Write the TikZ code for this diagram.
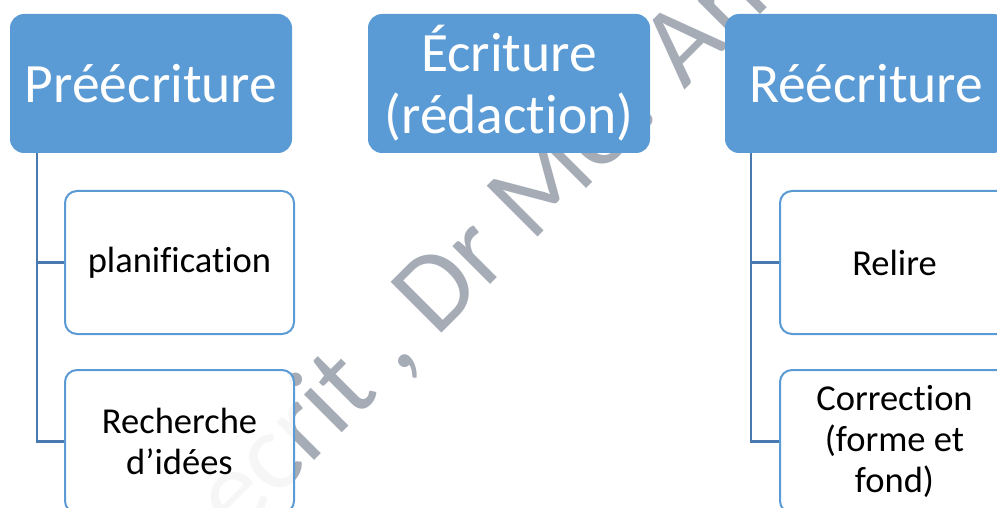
\documentclass[tikz,border=0pt]{standalone}
\usepackage{fontspec}
\setmainfont{Carlito}[Ligatures=NoCommon]
\usetikzlibrary{positioning}
\definecolor{smartblue}{RGB}{91,155,213}
\definecolor{linkblue}{RGB}{72,122,176}
\definecolor{markgray}{RGB}{165,172,182}
\tikzset{
  headbox/.style={fill=smartblue, rounded corners=14pt, minimum width=282pt, minimum height=139pt,
    text=white, align=center, inner sep=0pt, font=\fontsize{55.5}{62}\selectfont},
  itembox/.style={draw=smartblue, line width=2pt, fill=white, fill opacity=0.9, text opacity=1,
    rounded corners=12pt, minimum width=229pt, minimum height=143pt, align=center, inner sep=0pt,
    font=\fontsize{36.5}{41}\selectfont},
  link/.style={draw=linkblue, line width=2.2pt},
  watermark/.style={text=markgray, inner sep=0pt, font=\fontsize{112}{112}\selectfont}
}
\begin{document}
\begin{tikzpicture}[x=1pt, y=-1pt]
        \useasboundingbox (0,0) rectangle (997,508);
        \clip (0,0) rectangle (997,508);

        % filigrane
        \node[watermark, rotate=45, anchor=base west] (wm) at (236,539) {écrit , Dr Mo. An};

        \node[headbox] (pre) at (151,83.5) {Préécriture};
        \node[headbox] (ecr) at (509,83.5) {Écriture\\(rédaction)};
        \node[headbox] (ree) at (866,83.5) {Réécriture};

        \coordinate (preline) at ([xshift=27pt]pre.south west);
        \coordinate (reeline) at ([xshift=26pt]ree.south west);

        \node[itembox] (plan) at (179.5,262.5) {planification};
        \node[itembox] (rech) at (179.5,441.5) {Recherche\\d’idées};
        \draw[link] (preline) |- (plan.west);
        \draw[link] (preline) |- (rech.west);

        \node[itembox] (rel) at (894.5,262.5) {Relire};
        \node[itembox] (cor) at (894.5,441.5) {Correction\\(forme et\\fond)};
        \draw[link] (reeline) |- (rel.west);
        \draw[link] (reeline) |- (cor.west);
\end{tikzpicture}
\end{document}
